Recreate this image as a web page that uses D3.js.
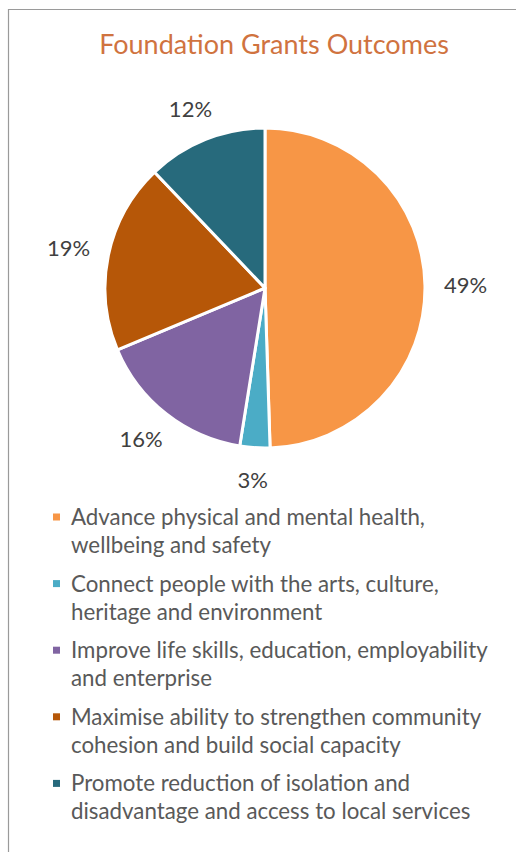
<!DOCTYPE html>
<html>
<head>
<meta charset="utf-8">
<script src="https://cdn.jsdelivr.net/npm/d3@7"></script>
<style>
  body { margin: 0; background: #fff; }
  text { font-family: Lato, "Open Sans", sans-serif; }
</style>
</head>
<body>
<div id="chart"></div>
<script>
const categories = [
  "Advance physical and mental health, wellbeing and safety",
  "Connect people with the arts, culture, heritage and environment",
  "Improve life skills, education, employability and enterprise",
  "Maximise ability to strengthen community cohesion and build social capacity",
  "Promote reduction of isolation and disadvantage and access to local services"
];
const values = [49, 3, 16, 19, 12];
const legendLines = [
  ["Advance physical and mental health,", "wellbeing and safety"],
  ["Connect people with the arts, culture,", "heritage and environment"],
  ["Improve life skills, education, employability", "and enterprise"],
  ["Maximise ability to strengthen community", "cohesion and build social capacity"],
  ["Promote reduction of isolation and", "disadvantage and access to local services"]
];
const colors = ["#F79646", "#4BACC6", "#8064A2", "#B65708", "#276A7C"];

const width = 516, height = 852;
const cx = 265, cy = 288, radius = 160;

const svg = d3.select("#chart").append("svg")
  .attr("width", width)
  .attr("height", height);

// frame
svg.append("path")
  .attr("d", `M8.5,${height} L8.5,9.5 L${width},9.5`)
  .attr("fill", "none")
  .attr("stroke", "#9a9a9a")
  .attr("stroke-width", 1.2);

svg.append("text")
  .attr("x", 274)
  .attr("y", 54)
  .attr("text-anchor", "middle")
  .attr("fill", "#D0733F")
  .style("font-size", "27px")
  .text("Foundation Grants Outcomes");

const color = d3.scaleOrdinal().domain(categories).range(colors);

const pie = d3.pie().sort(null).value(d => d.value);
const data = categories.map((c, i) => ({ name: c, value: values[i] }));
const arcs = pie(data);

const arc = d3.arc().innerRadius(0).outerRadius(radius);
const labelR = radius + 19;

const g = svg.append("g").attr("transform", `translate(${cx},${cy})`);

g.selectAll("path.slice")
  .data(arcs)
  .enter().append("path")
  .attr("class", "slice")
  .attr("d", arc)
  .attr("fill", d => color(d.data.name))
  .attr("stroke", "#fff")
  .attr("stroke-width", 3)
  .attr("stroke-linejoin", "round");

// labels sit just outside the pie edge, pushed out by half their box
const labels = g.selectAll("text.lbl")
  .data(arcs)
  .enter().append("text")
  .attr("class", "lbl")
  .attr("text-anchor", "middle")
  .attr("dy", "0.35em")
  .attr("fill", "#404040")
  .style("font-size", "22px")
  .text(d => Math.round(d.value) + "%");

labels.each(function(d) {
  const bb = this.getBBox();
  const a = (d.startAngle + d.endAngle) / 2;
  const x = Math.sin(a) * labelR + Math.sin(a) * bb.width / 2;
  const y = -Math.cos(a) * labelR - Math.cos(a) * bb.height / 2;
  d3.select(this).attr("transform", `translate(${x},${y})`);
});

// legend
const legendY = d3.scaleBand()
  .domain(categories)
  .range([505, 838]);

const leg = svg.append("g").selectAll("g")
  .data(categories)
  .enter().append("g")
  .attr("transform", d => `translate(0,${legendY(d)})`);

leg.append("rect")
  .attr("x", 53)
  .attr("y", 8.5)
  .attr("width", 7)
  .attr("height", 7)
  .attr("fill", d => color(d));

leg.append("text")
  .attr("x", 71)
  .attr("y", 20)
  .attr("fill", "#595959")
  .style("font-size", "22.3px")
  .selectAll("tspan")
  .data((d, i) => legendLines[i])
  .enter().append("tspan")
  .attr("x", 71)
  .attr("dy", (d, i) => i === 0 ? 0 : 28)
  .text(d => d);
</script>
</body>
</html>
